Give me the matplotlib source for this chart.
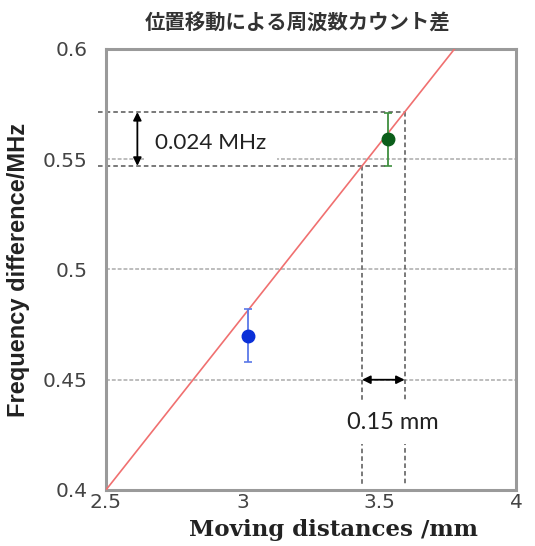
import matplotlib
matplotlib.use("Agg")
import matplotlib.pyplot as plt

# measured points (distance / mm, frequency diff / MHz, error)
dist = [3.02, 3.53]
freq = [0.470, 0.559]
ferr = [0.012, 0.012]
pt_colors = ["#0a2fd8", "#0b5e1a"]
err_colors = ["#5a78e8", "#3f8f3f"]

# fitted line end points
fit_x = [2.5, 3.775]
fit_y = [0.4, 0.6]

# annotation levels
f_hi = 0.5714
f_lo = 0.547
arrow_x = 2.615
arrow_y = 0.45

xticks = [2.5, 3, 3.5, 4]
xtick_labels = ["2.5", "3", "3.5", "4"]
yticks = [0.4, 0.45, 0.5, 0.55, 0.6]
ytick_labels = ["0.4", "0.45", "0.5", "0.55", "0.6"]


def x_on_fit(y):
    slope = (fit_y[1] - fit_y[0]) / (fit_x[1] - fit_x[0])
    return fit_x[0] + (y - fit_y[0]) / slope


fig = plt.figure(figsize=(5.35, 5.46), dpi=100)
ax = fig.add_axes([0.198, 0.1026, 0.7665, 0.8077])
ax.set_xlim(2.5, 4)
ax.set_ylim(0.4, 0.6)

# grid
for yv in [0.45, 0.5, 0.55]:
    ax.axhline(yv, color="#bdbdbd", lw=1.4, ls=(0, (2, 1)), zorder=1)

# fit line
ax.plot(fit_x, fit_y, color="#f07070", lw=1.2, zorder=3)

# dashed guide lines
x_hi = x_on_fit(f_hi)
x_lo = x_on_fit(f_lo)
dash = dict(color="#555555", lw=1.1, ls=(0, (3, 2)), zorder=2)
ax.plot([2.47, x_hi], [f_hi, f_hi], clip_on=False, **dash)
ax.plot([2.47, dist[1]], [f_lo, f_lo], clip_on=False, **dash)
ax.plot([x_lo, x_lo], [f_lo, 0.402], **dash)
ax.plot([x_hi, x_hi], [f_hi, 0.402], **dash)

# error bars
for i in range(len(dist)):
    ax.errorbar(dist[i], freq[i], yerr=ferr[i], fmt="none", ecolor=err_colors[i],
                elinewidth=1.3, capsize=3, capthick=1.2, zorder=4)
    ax.plot(dist[i], freq[i], "o", color=pt_colors[i], ms=9, zorder=5)

# arrows
ax.annotate("", xy=(arrow_x, f_hi), xytext=(arrow_x, f_lo),
            arrowprops=dict(arrowstyle="<|-|>", color="black", lw=1.3,
                            mutation_scale=12, shrinkA=0, shrinkB=0), zorder=6)
ax.annotate("", xy=(x_lo, arrow_y), xytext=(x_hi, arrow_y),
            arrowprops=dict(arrowstyle="<|-|>", color="black", lw=1.3,
                            mutation_scale=12, shrinkA=0, shrinkB=0), zorder=6)

ax.text(2.68, 0.5574, "0.024 MHz", fontsize=16.2, family="Lato", color="#222222",
        ha="left", va="center", zorder=3,
        bbox=dict(facecolor="white", edgecolor="none", pad=8))
ax.text(3.551, 0.4308, "0.15 mm", fontsize=17, family="Lato", color="#222222",
        ha="center", va="center", zorder=3,
        bbox=dict(facecolor="white", edgecolor="none", pad=8))

# axes style
for sp in ax.spines.values():
    sp.set_color("#9a9a9a")
    sp.set_linewidth(2.2)
ax.set_xticks(xticks)
ax.set_xticklabels(xtick_labels)
ax.set_yticks(yticks)
ax.set_yticklabels(ytick_labels)
ax.tick_params(length=0, labelsize=14.5, labelcolor="#444444", pad=2)
ax.tick_params(axis="y", pad=13)
for lab in ax.get_xticklabels() + ax.get_yticklabels():
    lab.set_family("DejaVu Sans")

ax.set_xlabel("Moving distances /mm", fontsize=16.5, family="DejaVu Serif",
              fontweight="bold", color="#222222")
ax.xaxis.set_label_coords(0.554, -0.066)
ax.set_ylabel("Frequency difference/MHz", fontsize=17, family="Liberation Sans",
              fontweight="bold", color="#222222", labelpad=9)
fig.text(0.557, 0.958, "位置移動による周波数カウント差", fontsize=14.7,
         family=["Noto Sans CJK JP", "DejaVu Sans"], fontweight="bold",
         color="#333333", ha="center", va="center")

fig.savefig("out.png", dpi=100)
